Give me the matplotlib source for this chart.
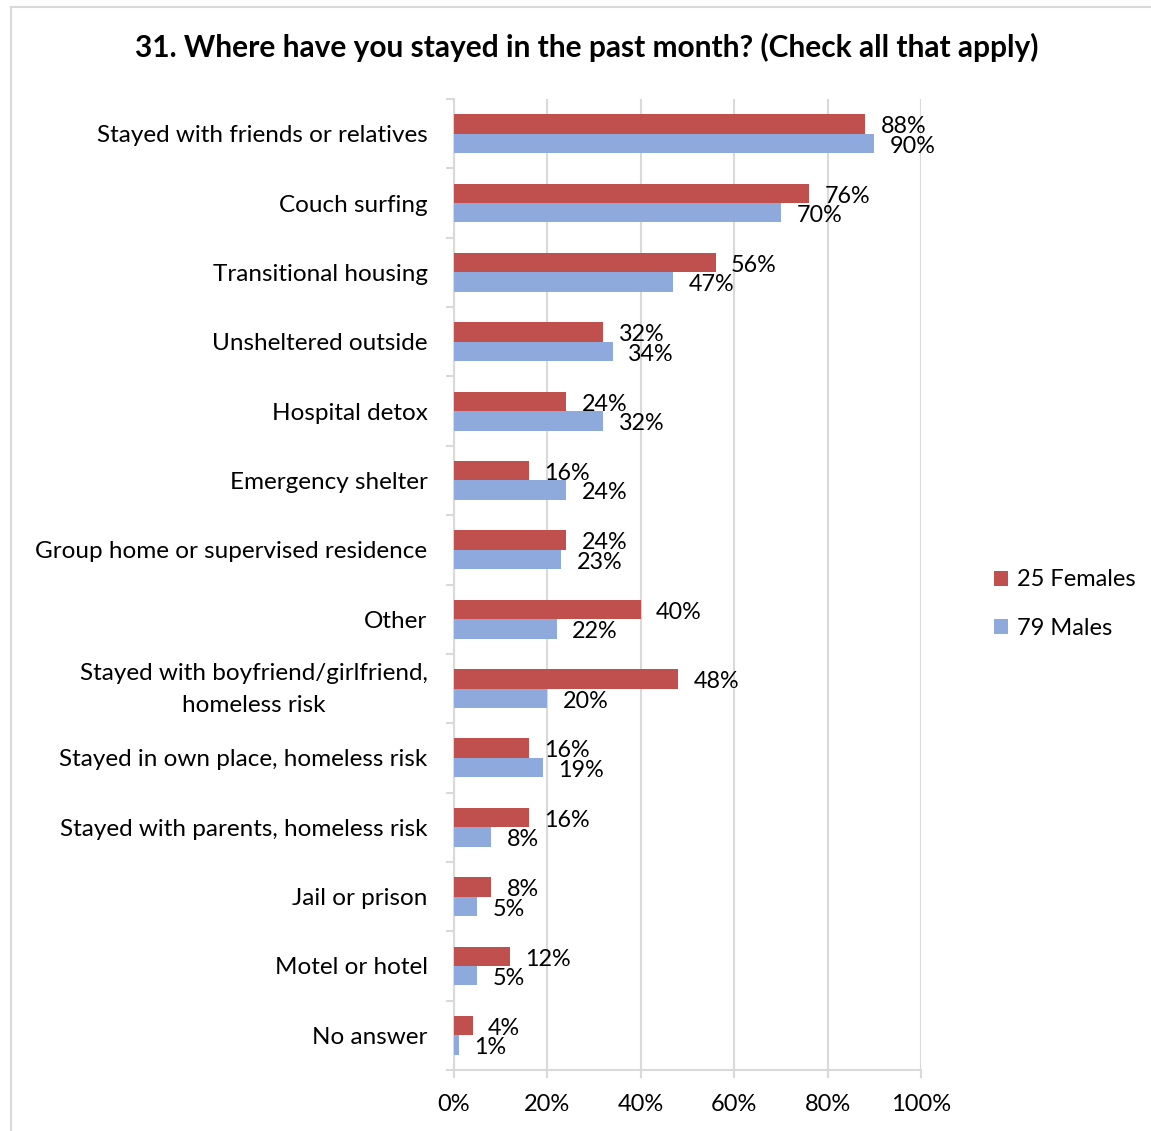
import numpy as np
import matplotlib.pyplot as plt
from matplotlib.lines import Line2D
from matplotlib.transforms import ScaledTranslation

plt.rcParams['font.family'] = ['Lato', 'DejaVu Sans']

categories = [
    'Stayed with friends or relatives',
    'Couch surfing',
    'Transitional housing',
    'Unsheltered outside',
    'Hospital detox',
    'Emergency shelter',
    'Group home or supervised residence',
    'Other',
    'Stayed with boyfriend/girlfriend,\nhomeless risk',
    'Stayed in own place, homeless risk',
    'Stayed with parents, homeless risk',
    'Jail or prison',
    'Motel or hotel',
    'No answer',
]
females = [88, 76, 56, 32, 24, 16, 24, 40, 48, 16, 16, 8, 12, 4]
males = [90, 70, 47, 34, 32, 24, 23, 22, 20, 19, 8, 5, 5, 1]

red = '#C0504D'
blue = '#8EAADC'
grid_c = '#D9D9D9'

fig = plt.figure(figsize=(11.51, 11.31), dpi=100)
ax = fig.add_axes([0.3944, 0.0539, 0.4058, 0.8586])

y = np.arange(len(categories))
h = 0.28
ax.barh(y - h / 2, females, height=h, color=red, label='25 Females', zorder=3)
ax.barh(y + h / 2, males, height=h, color=blue, label='79 Males', zorder=3)

for yi, v in zip(y, females):
    ax.text(v + 3.3, yi - h / 2 + 0.04, f'{v}%', va='center', ha='left', fontsize=16.8)
for yi, v in zip(y, males):
    ax.text(v + 3.3, yi + h / 2 + 0.04, f'{v}%', va='center', ha='left', fontsize=16.8)

ax.set_xlim(0, 100)
ax.set_ylim(len(categories) - 0.5, -0.5)
ax.set_xticks(np.arange(0, 101, 20))
ax.set_xticklabels([f'{t}%' for t in range(0, 101, 20)], fontsize=17)
ax.set_yticks(y)
ax.set_yticklabels(categories, fontsize=17.5, linespacing=1.65)
ax.tick_params(axis='y', length=0, pad=19)
ax.tick_params(axis='x', length=0, pad=17)

# two-line label: centred lines, nudged up a little
for lbl in ax.get_yticklabels():
    if '\n' in lbl.get_text():
        lbl.set_multialignment('center')
        lbl.set_transform(lbl.get_transform() + ScaledTranslation(0, 0.07, fig.dpi_scale_trans))

# category separator ticks on the left axis
ax.set_yticks(np.arange(-0.5, len(categories), 1), minor=True)
ax.tick_params(axis='y', which='minor', length=6, color=grid_c, width=1.5)

ax.grid(axis='x', color=grid_c, linewidth=1.5, zorder=0)
for s in ['top', 'right']:
    ax.spines[s].set_visible(False)
for s in ['left', 'bottom']:
    ax.spines[s].set_color(grid_c)
    ax.spines[s].set_linewidth(1.5)
# small ticks below the bottom axis
for t in range(0, 101, 20):
    ax.plot([t, t], [len(categories) - 0.5, len(categories) - 0.4], color=grid_c,
            lw=1.5, clip_on=False, zorder=1)

fig.text(0.51, 0.958, '31. Where have you stayed in the past month? (Check all that apply)',
         ha='center', va='center', fontsize=21.5, fontweight='bold')

fig.legend(loc='center left', bbox_to_anchor=(0.845, 0.466), frameon=False, fontsize=17,
           handlelength=0.6, handleheight=0.6, handletextpad=0.4, labelspacing=1.15)

# outer frame, top and left edges
fig.add_artist(Line2D([0.0095, 1.0], [0.9942, 0.9942], color=grid_c, lw=1.5))
fig.add_artist(Line2D([0.0095, 0.0095], [0.0, 0.9942], color=grid_c, lw=1.5))

fig.savefig('out.png', dpi=100)
